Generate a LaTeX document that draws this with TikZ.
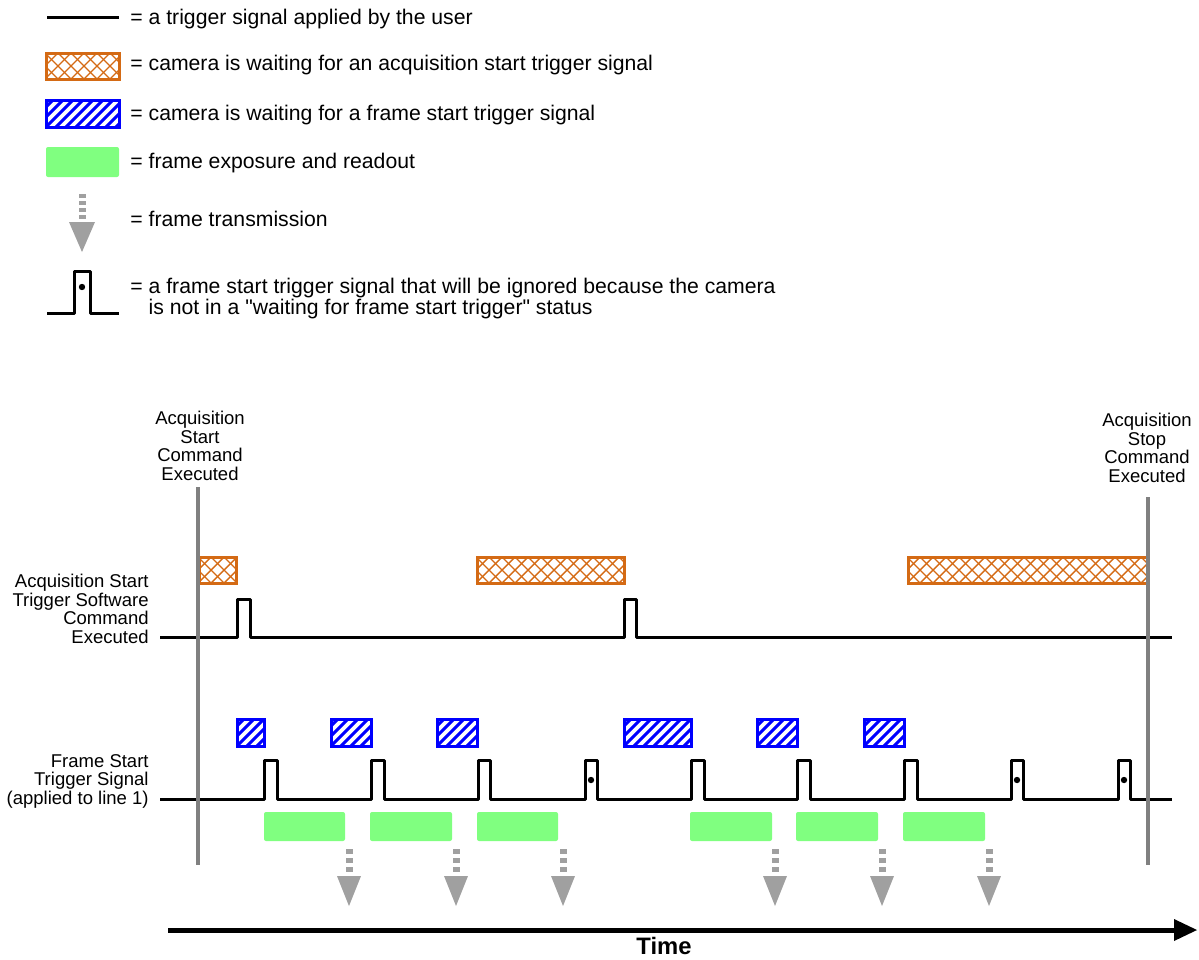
\documentclass[tikz,border=0pt]{standalone}
\usepackage{fontspec}
\setmainfont{Liberation Sans}
\newfontfamily\plainsans{Liberation Sans}
\definecolor{acqorange}{RGB}{212,106,20}
\definecolor{frblue}{RGB}{0,0,255}
\definecolor{expgreen}{RGB}{128,255,128}
\definecolor{vgray}{RGB}{128,128,128}
\definecolor{tgray}{RGB}{160,160,160}
\tikzset{
  sig/.style={line width=1.5pt, line join=round},
  legtext/.style={anchor=west, inner sep=0pt, font=\plainsans\fontsize{10.6}{10.5}\selectfont, align=left},
  lbl/.style={inner sep=0pt, font=\plainsans\fontsize{9.25}{9.25}\selectfont},
  vline/.style={draw=vgray, line width=2pt},
}
\newcommand\myacqbox[4]{%
  \begin{scope}
    \clip (#1,#2) rectangle (#3,#4);
    \foreach \t in {-40,-27,...,260} {
      \draw[acqorange, line width=0.7pt] ({#1+\t},#4) -- ++(40,-40);
      \draw[acqorange, line width=0.7pt] ({#1+\t},#2) -- ++(40,40);
    }
  \end{scope}
  \draw[acqorange, line width=1.5pt] (#1,#2) rectangle (#3,#4);
}
\newcommand\myfrbox[4]{%
  \begin{scope}
    \clip (#1,#2) rectangle (#3,#4);
    \foreach \t in {-40,-30,...,100} {
      \draw[frblue, line width=1.5pt] ({#1+\t},#4) -- ++(40,-40);
    }
  \end{scope}
  \draw[frblue, line width=1.5pt] (#1,#2) rectangle (#3,#4);
}
\newcommand\mytrans[1]{%
  \fill[tgray] ({#1-3.5},849) rectangle ({#1+3.5},854);
  \fill[tgray] ({#1-3.5},858) rectangle ({#1+3.5},863);
  \fill[tgray] ({#1-3.5},867) rectangle ({#1+3.5},872);
  \fill[tgray] ({#1-12},876) -- ({#1+12},876) -- (#1,906) -- cycle;
}
\begin{document}
\begin{tikzpicture}[x=0.5pt,y=-0.5pt]
\useasboundingbox (0,0) rectangle (1199,959);

% ---------------- legend ----------------
\coordinate (l1a) at (47,17);
\coordinate (l1b) at (119,17);
\draw[sig] (l1a) -- (l1b);
\node[legtext] (t1) at (130,19) {= a trigger signal applied by the user};

\myacqbox{46}{53}{119}{79}
\node[legtext] (t2) at (130,65) {= camera is waiting for an acquisition start trigger signal};

\myfrbox{46}{100}{119}{127}
\node[legtext] (t3) at (130,115) {= camera is waiting for a frame start trigger signal};

\fill[expgreen, rounded corners=1pt] (46,147) rectangle (119,177);
\node[legtext] (t4) at (130,163) {= frame exposure and readout};

\fill[tgray] (78.5,194) rectangle (85.5,198);
\fill[tgray] (78.5,201) rectangle (85.5,205);
\fill[tgray] (78.5,208) rectangle (85.5,212);
\fill[tgray] (78.5,215) rectangle (85.5,219);
\fill[tgray] (69,222) -- (95,222) -- (82,252) -- cycle;
\node[legtext] (t5) at (130,219) {= frame transmission};

\draw[sig] (47,313) -- (74,313) -- (74,271) -- (90,271) -- (90,313) -- (119,313);
\fill (82,287) circle (1.6pt);
\node[legtext] (t6) at (130,299) {= a frame start trigger signal that will be ignored because the camera\\\phantom{= }is not in a "waiting for frame start trigger" status};

% ---------------- diagram labels ----------------
\node[lbl, align=center] (startlbl) at (200,446) {Acquisition\\Start\\Command\\Executed};
\node[lbl, align=center] (stoplbl) at (1147,448) {Acquisition\\Stop\\Command\\Executed};
\node[lbl, align=right, anchor=east] (acqlbl) at (149,609) {Acquisition Start\\Trigger Software\\Command\\Executed};
\node[lbl, align=right, anchor=east] (frlbl) at (149,781) {Frame Start\\Trigger Signal\\(applied to line 1)};

% ---------------- waiting boxes ----------------
\myacqbox{199}{557}{236}{583}
\myacqbox{477}{557}{624}{583}
\myacqbox{908}{557}{1147}{583}

\myfrbox{237}{719}{264}{746}
\myfrbox{331}{719}{371}{746}
\myfrbox{437}{719}{477}{746}
\myfrbox{624}{719}{691}{746}
\myfrbox{757}{719}{797}{746}
\myfrbox{864}{719}{904}{746}

% ---------------- signals ----------------
\draw[sig] (160,637) -- (237,637) -- (237,599) -- (250,599) -- (250,637)
  -- (624,637) -- (624,599) -- (636,599) -- (636,637) -- (1172,637);

\draw[sig] (160,799) -- (264,799) -- (264,760) -- (277,760) -- (277,799)
  -- (371,799) -- (371,760) -- (384,760) -- (384,799)
  -- (478,799) -- (478,760) -- (490,760) -- (490,799)
  -- (585,799) -- (585,760) -- (597,760) -- (597,799)
  -- (691,799) -- (691,760) -- (704,760) -- (704,799)
  -- (797,799) -- (797,760) -- (810,760) -- (810,799)
  -- (904,799) -- (904,760) -- (917,760) -- (917,799)
  -- (1011,799) -- (1011,760) -- (1023,760) -- (1023,799)
  -- (1118,799) -- (1118,760) -- (1130,760) -- (1130,799) -- (1172,799);
\fill (591,780) circle (1.6pt);
\fill (1017,780) circle (1.6pt);
\fill (1124,780) circle (1.6pt);

% ---------------- exposure boxes ----------------
\foreach \a/\b in {264/345, 370/452, 477/558, 690/772, 796/878, 903/985}
  \fill[expgreen, rounded corners=1pt] (\a,812) rectangle (\b,841);

% ---------------- transmissions ----------------
\foreach \x in {349, 456, 563, 775, 882, 989} { \mytrans{\x} }

% ---------------- command lines ----------------
\coordinate (s1) at (198,487);
\coordinate (s2) at (198,865);
\coordinate (e1) at (1148,497);
\coordinate (e2) at (1148,865);
\draw[vline] (s1) -- (s2);
\draw[vline] (e1) -- (e2);

% ---------------- time axis ----------------
\coordinate (ta) at (168,930);
\coordinate (tb) at (1176,930);
\coordinate (tip) at (1197,930);
\draw[line width=2.5pt] (ta) -- (tb);
\fill (1174,919) -- (tip) -- (1174,941) -- cycle;
\node[inner sep=0pt, font=\plainsans\fontsize{11.9}{13}\selectfont\bfseries] (time) at (664,946) {Time};
\end{tikzpicture}
\end{document}
